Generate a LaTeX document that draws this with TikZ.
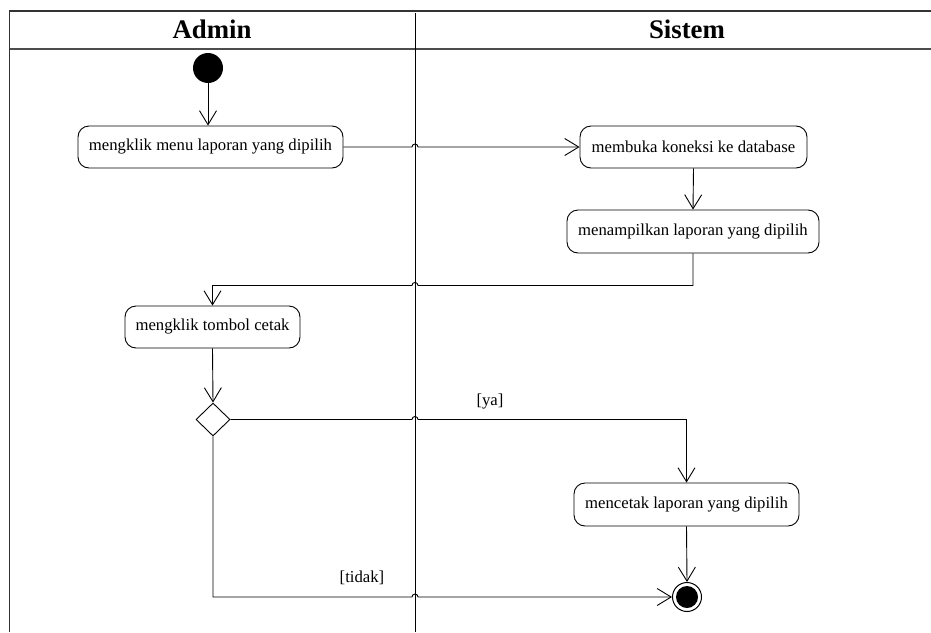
\documentclass[tikz,border=0pt]{standalone}
\usepackage{fontspec}
\setmainfont{Liberation Serif}
\usetikzlibrary{arrows.meta,shapes.geometric}
\begin{document}
\begin{tikzpicture}[x=1pt,y=1pt,
  line width=0.9pt,
  act/.style={draw, rounded corners=11pt, minimum height=42pt, inner sep=0pt, font=\fontsize{16.7}{20}\selectfont},
  flow/.style={-{Straight Barb[length=14pt,width=17pt,line width=0.9pt]}},
  plain/.style={},
  lbl/.style={font=\fontsize{16.7}{20}\selectfont, inner sep=0pt},
  head/.style={font=\fontsize{26.8}{30}\bfseries\selectfont, inner sep=0pt}]
\useasboundingbox (0,0) rectangle (931,-632);
% swimlane frame
\draw[line width=1.1pt, black!80] (9,-11) -- (931,-11);
\draw[line width=1.1pt, black!70] (9,-49) -- (931,-49);
\draw[line width=1pt, black!80] (9,-11) -- (9,-632);
\coordinate (lt) at (415,-13);
\coordinate (lb) at (415,-632);
\draw[line width=1pt] (lt) -- (lb);
\node[head] (hadmin) at (212,-29) {Admin};
\node[head] (hsistem) at (687,-29) {Sistem};
% nodes
\node[circle, fill=black, minimum size=30pt, inner sep=0pt] (start) at (208,-68) {};
\node[act, minimum width=265pt] (a1) at (210.5,-147) {mengklik menu laporan yang dipilih};
\node[act, minimum width=227pt] (a2) at (693.5,-147) {membuka koneksi ke database};
\node[act, minimum width=252pt, minimum height=43pt] (a3) at (693,-231.5) {menampilkan laporan yang dipilih};
\node[act, minimum width=175pt] (a4) at (212.5,-327) {mengklik tombol cetak};
\node[diamond, draw, minimum width=34pt, minimum height=33pt, inner sep=0pt] (dec) at (213,-419.5) {};
\node[act, minimum width=225pt, minimum height=43pt] (a5) at (686.5,-504.5) {mencetak laporan yang dipilih};
\node[circle, draw, line width=1pt, minimum size=29pt, inner sep=0pt] (end) at (687,-597) {};
\node[circle, fill=black, minimum size=22pt, inner sep=0pt] (endin) at (end.center) {};
% connectors
\draw[flow] (start) -- (start |- a1.north);
\draw[flow] (a1.east) -- ([xshift=-3pt]lt |- a1.east) arc[start angle=180,end angle=0,radius=3pt] -- (a2.west);
\draw[flow] (a2.south) -- (a3.north);
\coordinate (c1) at ([yshift=-32pt]a3.south);
\draw[flow] (a3.south) -- (c1) -- ([xshift=3pt]lt |- c1) arc[start angle=0,end angle=180,radius=3pt] -- (a4.north |- c1) -- (a4.north);
\draw[flow] (a4.south) -- (dec.north);
\draw[flow] (dec.east) -- ([xshift=-3pt]lt |- dec.east) arc[start angle=180,end angle=0,radius=3pt] -- (a5.north |- dec.east) -- (a5.north);
\draw[flow] (a5.south) -- (end.north);
\draw[flow] (dec.south) -- (dec.south |- end.west) -- ([xshift=-3pt]lt |- end.west) arc[start angle=180,end angle=0,radius=3pt] -- (end.west);
\node[lbl] (lya) at (490,-402) {[ya]};
\node[lbl] (ltidak) at (362,-578) {[tidak]};
\end{tikzpicture}
\end{document}
